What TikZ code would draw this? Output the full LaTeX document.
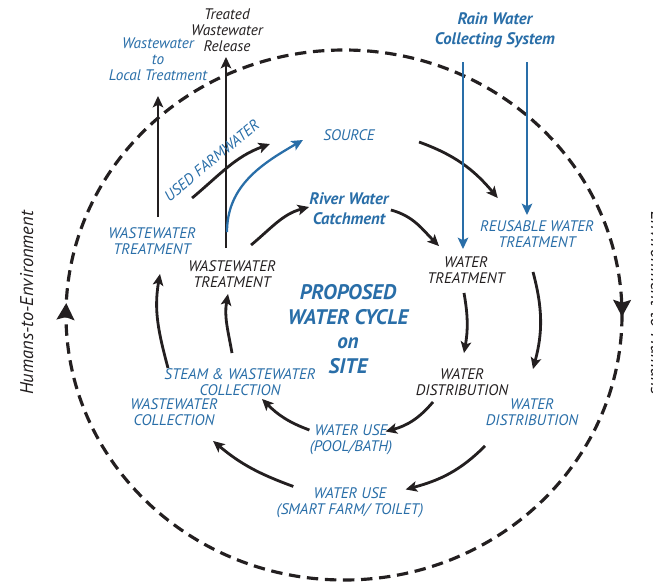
\documentclass[tikz,border=0pt]{standalone}
\usepackage{fontspec}
\setmainfont{PT Sans}
\usepackage{xcolor}
\usepackage{tikz}
\usetikzlibrary{arrows.meta,decorations.markings}

\definecolor{cycleblue}{RGB}{41,110,168}
\definecolor{inkgray}{RGB}{35,31,32}

\begin{document}
\begin{tikzpicture}[
  x=0.02cm, y=-0.02cm,
  >={Stealth[length=6.5pt,width=6pt,inset=1.5pt]},
  every node/.style={inner sep=0pt, align=center},
  blbl/.style={text=cycleblue, font=\fontsize{8.7}{9.2}\selectfont\itshape},
  dlbl/.style={text=inkgray, font=\fontsize{8.7}{9.2}\selectfont\itshape},
  bigblue/.style={text=cycleblue, font=\fontsize{9.5}{11.5}\selectfont\bfseries\itshape},
  headline/.style={text=cycleblue, font=\fontsize{12}{14}\selectfont\bfseries\itshape},
  sidelbl/.style={text=inkgray, font=\fontsize{10.5}{12}\selectfont\itshape},
  flow/.style={->, line width=1.6pt, inkgray},
  rainflow/.style={->, line width=1.3pt, cycleblue},
  ring/.style={line width=1.8pt, dash pattern=on 6.5pt off 3.8pt, inkgray,
    postaction={decorate}, decoration={markings,
      mark=at position 0.001 with {\arrow[solid]{Stealth[length=9.5pt,width=10pt,inset=1.5pt]}},
      mark=at position 0.507 with {\arrow[solid]{Stealth[length=9.5pt,width=10pt,inset=1.5pt]}}}}
]
\useasboundingbox (0,0) rectangle (653,582);

\draw[ring] (344,315) ellipse [x radius=278, y radius=265];

\node[dlbl] (rel)    at (227,30)  {Treated\\Wastewater\\Release};
\node[blbl] (local)  at (158,59)  {Wastewater\\to\\Local Treatment};
\node[bigblue] (rain) at (495,30) {Rain Water\\Collecting System};
\node[blbl] (src)    at (349,135) {SOURCE};
\node[bigblue] (river) at (349,209) {River Water\\Catchment};
\node[blbl] (wwtA)   at (152,241) {WASTEWATER\\TREATMENT};
\node[dlbl] (wwtB)   at (232,274) {WASTEWATER\\TREATMENT};
\node[blbl] (reuse)  at (537,234) {REUSABLE WATER\\TREATMENT};
\node[dlbl] (wtreat) at (466,270) {WATER\\TREATMENT};
\node[headline] (title) at (348,329) {PROPOSED\\WATER CYCLE\\on\\SITE};
\node[blbl] (steam)  at (240,382) {STEAM \& WASTEWATER\\COLLECTION};
\node[blbl] (wwcoll) at (174,412) {WASTEWATER\\COLLECTION};
\node[dlbl] (wdistB) at (462,382) {WATER\\DISTRIBUTION};
\node[blbl] (wdistA) at (532,412) {WATER\\DISTRIBUTION};
\node[blbl] (pool)   at (351,440) {WATER USE\\(POOL/BATH)};
\node[blbl] (smart)  at (350,503) {WATER USE\\(SMART FARM/ TOILET)};
\node[sidelbl, rotate=90, anchor=base]  (h2e) at (33,303)  {Humans-to-Environment};
\node[sidelbl, rotate=-90, anchor=base] (e2h) at (651,303) {Environment-to-Humans};

\draw[flow] ([shift={(6,-10)}]wwtA.north) -- ([shift={(0,15)}]local.south);
\draw[flow] ([shift={(-6,-12)}]wwtB.north) -- ([shift={(-1,5)}]rel.south);
\draw[rainflow] ([shift={(-5,-28)}]wwtB.north) to[out=90, in=-150] ([shift={(-20,5)}]src.west);
\draw[flow] ([shift={(-4,-29)}]wwtA.north east) to[out=40, in=-160]
  node[blbl, sloped, above=5pt, pos=0.4] (farm) {USED FARMWATER} ([shift={(-53,9)}]src.west);
\draw[flow] ([shift={(-25,-15)}]wwtB.north east) to[out=40, in=-165] ([shift={(0,-2)}]river.west);
\draw[flow] ([shift={(44,7)}]src.east) to[out=-20, in=130] ([shift={(18,-22)}]reuse.north west);
\draw[flow] ([shift={(2,1)}]river.east) to[out=-15, in=135] ([shift={(12,-10)}]wtreat.north west);
\draw[rainflow] ([shift={(-32,14)}]rain.south) -- ([shift={(-3,-7)}]wtreat.north);
\draw[rainflow] ([shift={(32,14)}]rain.south) -- ([shift={(-10,-5)}]reuse.north);
\draw[flow] ([shift={(-2,9)}]wtreat.south) to[out=-80, in=80] ([shift={(2,-15)}]wdistB.north);
\draw[flow] ([shift={(-4,24)}]reuse.south) to[out=-75, in=75] ([shift={(1,-29)}]wdistA.north);
\draw[flow] ([shift={(-29,6)}]wdistB.south) to[out=-130, in=15] ([shift={(-7,7)}]pool.north east);
\draw[flow] ([shift={(-47,20)}]wdistA.south) to[out=-135, in=15] ([shift={(-18,2)}]smart.north east);
\draw[flow] ([shift={(0,-10)}]pool.west) to[out=160, in=-45] ([shift={(22,3)}]steam.south);
\draw[flow] ([shift={(17,-1)}]smart.north west) to[out=160, in=-40] ([shift={(-5,15)}]wwcoll.south east);
\draw[flow] ([shift={(-8,-15)}]steam.north) to[out=100, in=-100] ([shift={(-4,6)}]wwtB.south);
\draw[flow] ([shift={(-6,-30)}]wwcoll.north) to[out=105, in=-100] ([shift={(8,19)}]wwtA.south);
\end{tikzpicture}
\end{document}
